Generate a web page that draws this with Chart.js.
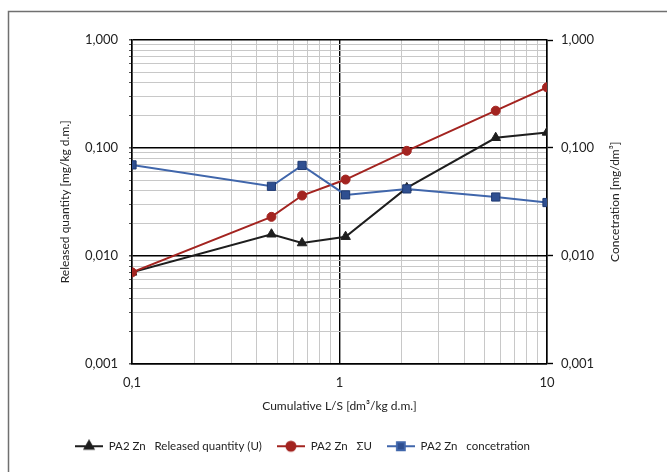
<!DOCTYPE html>
<html>
<head>
<meta charset="utf-8">
<script src="https://cdn.jsdelivr.net/npm/chart.js@4.4.0/dist/chart.umd.min.js"></script>
<style>
html, body { margin: 0; padding: 0; background: #fff; }
</style>
</head>
<body>
<canvas id="grafico" width="667" height="472"></canvas>
<script>
// cumulative L/S values (x) and the three series
var lsValues = [0.1, 0.47, 0.66, 1.07, 2.11, 5.66, 10];
var releasedQty = [0.0070, 0.0158, 0.0131, 0.0150, 0.0425, 0.124, 0.139];
var sumU = [0.0070, 0.0229, 0.0361, 0.0508, 0.0938, 0.221, 0.364];
var concentration = [0.0695, 0.0440, 0.0687, 0.0366, 0.0416, 0.0350, 0.0311];
var seriesNames = ['PA2 Zn   Released quantity (U)', 'PA2 Zn   \u03A3U', 'PA2 Zn   concetration'];

var xMajor = [0.1, 1, 10];
var xTickLabels = ['0,1', '1', '10'];
var yMajor = [0.001, 0.01, 0.1, 1];
var yTickLabels = ['0,001', '0,010', '0,100', '1,000'];
var rightTitle = 'Concetration [mg/dm\u00B3]';

var FONT = 'Lato';

function pts(ys) {
    return lsValues.map(function (x, i) { return {x: x, y: ys[i]}; });
}

// minor + major tick positions for a log axis
function logTicks(majors) {
    var t = [];
    for (var i = 0; i < majors.length - 1; i++) {
        for (var k = 1; k < 10; k++) {
            t.push({value: +(majors[i] * k).toPrecision(6)});
        }
    }
    t.push({value: majors[majors.length - 1]});
    return t;
}

function labelFor(majors, labels) {
    return function (v) {
        var i = majors.indexOf(+(+v).toPrecision(6));
        return i >= 0 ? labels[i] : '';
    };
}

function gridColor(majors) {
    return function (c) {
        if (!c.tick) return '#c8c8c8';
        return majors.indexOf(c.tick.value) >= 0 ? '#000' : '#c8c8c8';
    };
}
function gridWidth(majors) {
    return function (c) {
        if (!c.tick) return 1;
        return majors.indexOf(c.tick.value) >= 0 ? 1.4 : 1;
    };
}

// legend icons: a short line with the marker in the middle
function legendMark(color, fill, style, radius) {
    var c = document.createElement('canvas');
    c.width = 28; c.height = 14;
    var g = c.getContext('2d');
    g.strokeStyle = color;
    g.lineWidth = 2;
    g.beginPath(); g.moveTo(0, 7); g.lineTo(28, 7); g.stroke();
    g.fillStyle = fill;
    g.strokeStyle = color;
    Chart.helpers.drawPoint(g, {pointStyle: style, radius: radius, borderWidth: 1, rotation: 0}, 14, 7);
    return c;
}

var frame = {
    id: 'frame',
    beforeDraw: function (chart) {
        var ctx = chart.ctx;
        ctx.save();
        ctx.strokeStyle = '#707070';
        ctx.lineWidth = 1.5;
        ctx.beginPath();
        ctx.moveTo(8.5, 472);
        ctx.lineTo(8.5, 11.5);
        ctx.lineTo(667, 11.5);
        ctx.stroke();
        ctx.restore();
    },
    // right axis title reads bottom-to-top like the left one
    afterDraw: function (chart) {
        var ctx = chart.ctx, a = chart.chartArea;
        ctx.save();
        ctx.translate(615, (a.top + a.bottom) / 2);
        ctx.rotate(-Math.PI / 2);
        ctx.font = '12px ' + FONT;
        ctx.fillStyle = '#222';
        ctx.textAlign = 'center';
        ctx.textBaseline = 'middle';
        ctx.fillText(rightTitle, 0, 0);
        ctx.restore();
    }
};

var legendShift = {
    id: 'legendShift',
    afterLayout: function (chart) {
        var dx = -31;
        chart.legend.left += dx;
        chart.legend.right += dx;
    }
};

var black = '#1e1e1e', red = '#a32420', blue = '#4066ab', blueFill = '#2f4f90', blueEdge = '#1f3a72';

var grafico = document.getElementById('grafico');

var chart = new Chart(grafico, {
    type: 'line',
    data: {
        datasets: [{
            label: seriesNames[0],
            data: pts(releasedQty),
            borderColor: black,
            backgroundColor: black,
            borderWidth: 2,
            pointStyle: 'triangle',
            pointRadius: 5.5,
            pointBorderWidth: 1,
            yAxisID: 'y',
            order: 3
        }, {
            label: seriesNames[1],
            data: pts(sumU),
            borderColor: red,
            backgroundColor: red,
            borderWidth: 2,
            pointStyle: 'circle',
            pointRadius: 4.5,
            pointBorderWidth: 1,
            yAxisID: 'y',
            order: 2
        }, {
            label: seriesNames[2],
            data: pts(concentration),
            borderColor: blue,
            backgroundColor: blueFill,
            pointBorderColor: blueEdge,
            borderWidth: 2,
            pointStyle: 'rect',
            pointRadius: 5.8,
            pointBorderWidth: 1,
            yAxisID: 'y2',
            order: 1
        }]
    },
    options: {
        responsive: false,
        animation: false,
        layout: {padding: {top: 40, left: 0, right: 0, bottom: 10}},
        plugins: {
            tooltip: {enabled: false},
            legend: {
                position: 'bottom',
                labels: {
                    usePointStyle: true,
                    pointStyleWidth: 28,
                    padding: 15,
                    color: '#222',
                    font: {family: FONT, size: 11.5},
                    sort: function (a, b) { return a.datasetIndex - b.datasetIndex; },
                    generateLabels: function (ch) {
                        var marks = [
                            legendMark(black, black, 'triangle', 5),
                            legendMark(red, red, 'circle', 4.5),
                            legendMark(blue, blueFill, 'rect', 5.5)
                        ];
                        return ch.data.datasets.map(function (ds, i) {
                            return {
                                text: ds.label,
                                datasetIndex: i,
                                pointStyle: marks[i],
                                fillStyle: ds.backgroundColor,
                                strokeStyle: ds.borderColor,
                                lineWidth: 0,
                                fontColor: '#222',
                                hidden: false
                            };
                        });
                    }
                }
            }
        },
        scales: {
            x: {
                type: 'logarithmic',
                min: 0.1,
                max: 10,
                afterBuildTicks: function (s) { s.ticks = logTicks(xMajor); },
                afterFit: function (s) { s.height = 62; },
                ticks: {
                    autoSkip: false,
                    maxRotation: 0,
                    padding: 12,
                    color: '#222',
                    font: {family: FONT, size: 13},
                    callback: labelFor(xMajor, xTickLabels)
                },
                grid: {
                    drawTicks: false,
                    color: gridColor(xMajor),
                    lineWidth: gridWidth(xMajor)
                },
                border: {color: '#000', width: 1.5},
                title: {
                    display: true,
                    text: 'Cumulative L/S [dm\u00B3/kg d.m.]',
                    color: '#222',
                    font: {family: FONT, size: 12},
                    padding: {top: 4, bottom: 12}
                }
            },
            y: {
                type: 'logarithmic',
                position: 'left',
                min: 0.001,
                max: 1,
                afterBuildTicks: function (s) { s.ticks = logTicks(yMajor); },
                afterFit: function (s) { s.width = 132; },
                ticks: {
                    autoSkip: false,
                    padding: 11,
                    color: '#222',
                    font: {family: FONT, size: 13},
                    callback: labelFor(yMajor, yTickLabels)
                },
                grid: {
                    tickLength: 3,
                    tickColor: '#555',
                    color: gridColor(yMajor),
                    lineWidth: gridWidth(yMajor)
                },
                border: {color: '#000', width: 1.5},
                title: {
                    display: true,
                    text: 'Released quantity [mg/kg d.m.]',
                    color: '#222',
                    font: {family: FONT, size: 12},
                    padding: {top: 58, bottom: 4}
                }
            },
            y2: {
                type: 'logarithmic',
                position: 'right',
                min: 0.001,
                max: 1,
                afterBuildTicks: function (s) { s.ticks = logTicks(yMajor); },
                afterFit: function (s) { s.width = 120; },
                ticks: {
                    autoSkip: false,
                    padding: 8,
                    color: '#222',
                    font: {family: FONT, size: 13},
                    callback: labelFor(yMajor, yTickLabels)
                },
                grid: {
                    drawOnChartArea: false,
                    tickLength: 6,
                    tickColor: function (c) {
                        return c.tick && yMajor.indexOf(c.tick.value) >= 0 ? '#000' : 'rgba(0,0,0,0)';
                    },
                    tickWidth: 1.4
                },
                border: {color: '#000', width: 1.5}
            }
        }
    },
    plugins: [frame, legendShift]
});
</script>
</body>
</html>
